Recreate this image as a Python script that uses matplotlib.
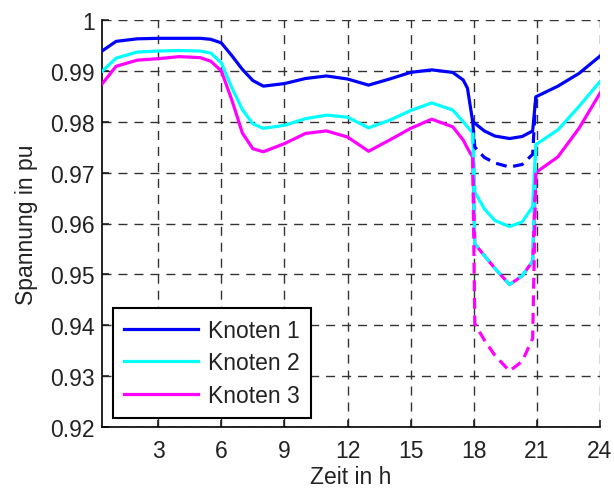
import matplotlib
matplotlib.use("Agg")
import matplotlib.pyplot as plt

plt.rcParams['font.family'] = ['Liberation Sans', 'DejaVu Sans']

# time axis (hours)
hours = [0.33, 1, 2, 3, 4, 5, 5.5, 6, 6.5, 7, 7.5, 8, 9, 10, 11, 12, 13, 14,
         15, 16, 17, 17.5, 17.7, 17.95, 18.05, 18.5, 19, 19.7, 20.3, 20.8,
         20.95, 22, 23, 24]

# node voltages in pu, base case
knoten1 = [0.9939, 0.9958, 0.9963, 0.9964, 0.9964, 0.9964, 0.9962, 0.9955,
           0.9930, 0.9903, 0.9881, 0.9870, 0.9875, 0.9885, 0.9890, 0.9884,
           0.9872, 0.9884, 0.9897, 0.9902, 0.9897, 0.9882, 0.9866, 0.9800,
           0.9797, 0.9782, 0.9772, 0.9767, 0.9771, 0.9782, 0.9849, 0.9870,
           0.9895, 0.9929]
knoten2 = [0.9899, 0.9925, 0.9937, 0.9939, 0.9940, 0.9939, 0.9935, 0.9916,
           0.9867, 0.9824, 0.9796, 0.9787, 0.9793, 0.9806, 0.9813, 0.9809,
           0.9788, 0.9803, 0.9822, 0.9837, 0.9823, 0.9800, 0.9790, 0.9778,
           0.9662, 0.9629, 0.9606, 0.9594, 0.9603, 0.9633, 0.9755, 0.9784,
           0.9830, 0.9879]
knoten3 = [0.9874, 0.9909, 0.9921, 0.9924, 0.9928, 0.9926, 0.9919, 0.9900,
           0.9843, 0.9778, 0.9747, 0.9741, 0.9757, 0.9777, 0.9782, 0.9770,
           0.9742, 0.9764, 0.9787, 0.9805, 0.9790, 0.9764, 0.9748, 0.9730,
           0.9560, 0.9537, 0.9512, 0.9480, 0.9497, 0.9526, 0.9700, 0.9731,
           0.9787, 0.9856]

# evening peak scenario (dashed)
hours_peak = [17.95, 18.05, 18.5, 19, 19.7, 20.3, 20.8, 20.95]
knoten1_peak = [0.9800, 0.9750, 0.9730, 0.9719, 0.9711, 0.9716, 0.9736, 0.9849]
knoten2_peak = [0.9778, 0.9560, 0.9537, 0.9512, 0.9480, 0.9497, 0.9526, 0.9755]
knoten3_peak = [0.9730, 0.9403, 0.9371, 0.9341, 0.9310, 0.9329, 0.9374, 0.9700]

labels = ['Knoten 1', 'Knoten 2', 'Knoten 3']
colors = ['#0000ff', '#00ffff', '#ff00ff']

xticks = [3, 6, 9, 12, 15, 18, 21, 24]
yticks = [0.92, 0.93, 0.94, 0.95, 0.96, 0.97, 0.98, 0.99, 1.0]
yticklabels = ['0.92', '0.93', '0.94', '0.95', '0.96', '0.97', '0.98', '0.99', '1']

FS = 16.5
TXT = '#222222'

fig = plt.figure(figsize=(6.14, 4.89), dpi=100)
ax = fig.add_axes([102 / 614, 1 - 428 / 489, 498 / 614, 407 / 489])

handles = []
for series, col, lab in zip([knoten1, knoten2, knoten3], colors, labels):
    h, = ax.plot(hours, series, color=col, lw=2.3, label=lab, zorder=3,
                 solid_joinstyle='round')
    handles.append(h)
for series, col in zip([knoten1_peak, knoten2_peak, knoten3_peak], colors):
    ax.plot(hours_peak, series, color=col, lw=2.3, linestyle=(0, (3.4, 2.1)),
            zorder=4)

ax.set_xlim(0.33, 24)
ax.set_ylim(0.92, 1.0)
ax.set_xticks(xticks)
ax.set_yticks(yticks)
ax.set_yticklabels(yticklabels)

ax.grid(True, color='#333333', linestyle=(0, (6.5, 5)), linewidth=1.0)
ax.set_axisbelow(True)
for side in ['top', 'right']:
    ax.spines[side].set_visible(False)
for side in ['left', 'bottom']:
    ax.spines[side].set_linewidth(1.2)

ax.tick_params(direction='in', length=5, width=1.2, labelsize=FS,
               colors=TXT, top=False, right=False)
ax.tick_params(axis='x', pad=9)
ax.tick_params(axis='y', pad=5)

ax.set_xlabel('Zeit in h', fontsize=FS, color=TXT, labelpad=2)
ax.set_ylabel('Spannung in pu', fontsize=FS, color=TXT, labelpad=9)

leg = ax.legend(handles=handles, loc='lower left', bbox_to_anchor=(0.022, 0.022),
                borderaxespad=0, fontsize=FS, handlelength=3.2,
                handletextpad=0.45, labelspacing=0.4, borderpad=0.5,
                fancybox=False, framealpha=1, edgecolor='k')
leg.get_frame().set_linewidth(1.5)
for t in leg.get_texts():
    t.set_color(TXT)

fig.savefig('out.png', dpi=100)
